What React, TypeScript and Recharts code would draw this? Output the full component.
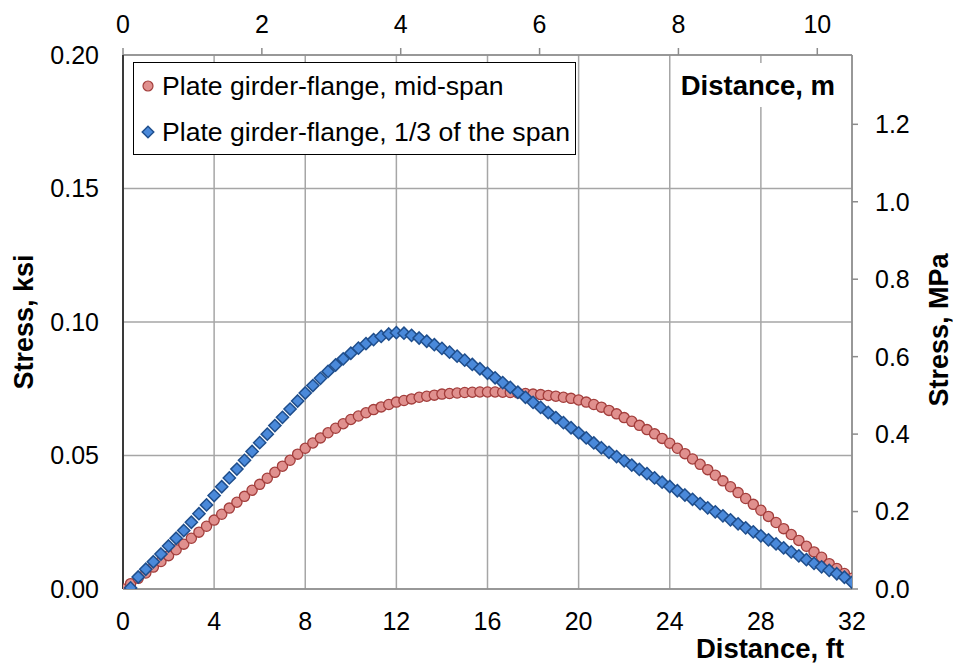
import React from 'react';
import {
  ScatterChart,
  Scatter,
  XAxis,
  YAxis,
  CartesianGrid,
  Legend,
  ReferenceArea,
  Label,
} from 'recharts';

const FONT = '"Liberation Sans", Arial, sans-serif';

// distance step between readings (ft)
const STEP_FT = 1 / 3;

// Plate girder-flange, mid-span (ksi), readings start at 0 ft
const midSpanKsi = [
  0.0000, 0.0020, 0.0040, 0.0060, 0.0082, 0.0103, 0.0125, 0.0147, 0.0168, 0.0190,
  0.0213, 0.0235, 0.0258, 0.0280, 0.0303, 0.0325, 0.0347, 0.0370, 0.0392, 0.0415,
  0.0437, 0.0460, 0.0482, 0.0505, 0.0527, 0.0547, 0.0566, 0.0585, 0.0602, 0.0619,
  0.0635, 0.0648, 0.0660, 0.0672, 0.0682, 0.0691, 0.0700, 0.0706, 0.0712, 0.0718,
  0.0722, 0.0726, 0.0730, 0.0732, 0.0734, 0.0736, 0.0737, 0.0738, 0.0738, 0.0738,
  0.0737, 0.0736, 0.0734, 0.0732, 0.0730, 0.0728, 0.0725, 0.0722, 0.0718, 0.0714,
  0.0708, 0.0700, 0.0691, 0.0681, 0.0669, 0.0656, 0.0642, 0.0628, 0.0613, 0.0597,
  0.0581, 0.0564, 0.0546, 0.0527, 0.0507, 0.0487, 0.0467, 0.0447, 0.0426, 0.0405,
  0.0383, 0.0361, 0.0339, 0.0317, 0.0295, 0.0272, 0.0249, 0.0226, 0.0204, 0.0182,
  0.0160, 0.0139, 0.0119, 0.0095, 0.0077, 0.0058, 0.0040,
];

// Plate girder-flange, 1/3 of the span (ksi), readings start one step in
const thirdSpanStart = 1;
const thirdSpanKsi = [
  0.0004, 0.0045, 0.0074, 0.0102, 0.0131, 0.0161, 0.0190, 0.0219, 0.0250, 0.0282,
  0.0315, 0.0350, 0.0383, 0.0416, 0.0449, 0.0482, 0.0515, 0.0548, 0.0580, 0.0612,
  0.0643, 0.0674, 0.0704, 0.0734, 0.0762, 0.0789, 0.0815, 0.0839, 0.0862, 0.0883,
  0.0902, 0.0919, 0.0934, 0.0946, 0.0955, 0.0960, 0.0958, 0.0950, 0.0940, 0.0928,
  0.0915, 0.0901, 0.0887, 0.0872, 0.0857, 0.0841, 0.0825, 0.0808, 0.0791, 0.0773,
  0.0755, 0.0737, 0.0718, 0.0699, 0.0680, 0.0661, 0.0642, 0.0623, 0.0604, 0.0585,
  0.0566, 0.0547, 0.0529, 0.0512, 0.0496, 0.0480, 0.0464, 0.0448, 0.0432, 0.0416,
  0.0400, 0.0384, 0.0368, 0.0352, 0.0336, 0.0320, 0.0304, 0.0289, 0.0274, 0.0259,
  0.0244, 0.0229, 0.0214, 0.0199, 0.0184, 0.0169, 0.0154, 0.0139, 0.0124, 0.0110,
  0.0096, 0.0083, 0.0070, 0.0057, 0.0044, 0.0025,
];

const seriesNames = ['Plate girder-flange, mid-span', 'Plate girder-flange, 1/3 of the span'];

const ftTicks = [0, 4, 8, 12, 16, 20, 24, 28, 32];
const mTicks = [0, 2, 4, 6, 8, 10];
const ksiTicks = [0, 0.05, 0.1, 0.15, 0.2];
const mpaTicks = [0, 0.2, 0.4, 0.6, 0.8, 1.0, 1.2];

const ftDomain = [0, 32];
const mDomain = [0, 10.5];
const ksiDomain = [0, 0.2];
const mpaDomain = [0, 1.379];

const midData = midSpanKsi.map((v, i) => ({ ft: i * STEP_FT, ksi: v }));
const thirdData = thirdSpanKsi.map((v, i) => ({ ft: (i + thirdSpanStart) * STEP_FT, ksi: v }));
// anchor row so the secondary (metric) axes are registered; drawn invisibly
const metricAnchor = [{ m: mDomain[0], mpa: mpaDomain[0] }];

const RED_FILL = '#E0908E';
const RED_STROKE = '#A33E3C';
const BLUE_FILL = '#4A89DA';
const BLUE_STROKE = '#1F4E8C';
const GRID = '#A6A6A6';
const AXIS_GRAY = '#8C8C8C';

const CircleMark = (p: any) => (
  <circle cx={p.cx} cy={p.cy} r={5.1} fill={RED_FILL} stroke={RED_STROKE} strokeWidth={1.3} />
);

const DiamondMark = (p: any) => {
  const s = 6.1;
  const { cx, cy } = p;
  return (
    <path
      d={`M${cx},${cy - s}L${cx + s},${cy}L${cx},${cy + s}L${cx - s},${cy}Z`}
      fill={BLUE_FILL}
      stroke={BLUE_STROKE}
      strokeWidth={1.5}
    />
  );
};

const NoMark = () => <g />;

const LegendBox = () => (
  <div
    style={{
      boxSizing: 'border-box',
      width: 443,
      height: 93,
      border: '1.5px solid #000',
      background: '#fff',
      position: 'relative',
      fontFamily: FONT,
      fontSize: 26.6,
      color: '#000',
    }}
  >
    <svg width={16} height={16} style={{ position: 'absolute', left: 6, top: 15 }}>
      <circle cx={8} cy={8} r={5} fill={RED_FILL} stroke={RED_STROKE} strokeWidth={1.2} />
    </svg>
    <span style={{ position: 'absolute', left: 28, top: 7, lineHeight: '32px', whiteSpace: 'nowrap' }}>
      {seriesNames[0]}
    </span>
    <svg width={16} height={16} style={{ position: 'absolute', left: 6, top: 61 }}>
      <path d="M8,2.2L13.8,8L8,13.8L2.2,8Z" fill={BLUE_FILL} stroke={BLUE_STROKE} strokeWidth={1.4} />
    </svg>
    <span style={{ position: 'absolute', left: 28, top: 53, lineHeight: '32px', whiteSpace: 'nowrap' }}>
      {seriesNames[1]}
    </span>
  </div>
);

const tickStyle = { fontSize: 25, fill: '#000', fontFamily: FONT };

export default function App() {
  return (
    <div style={{ position: 'absolute', left: 0, top: 0, width: 953, height: 667, background: '#fff' }}>
      <ScatterChart width={953} height={667} margin={{ top: 0, right: 0, bottom: 0, left: 0 }}>
        <CartesianGrid xAxisId="ft" yAxisId="ksi" stroke={GRID} strokeWidth={1.5} />
        <XAxis
          xAxisId="ft"
          dataKey="ft"
          type="number"
          orientation="bottom"
          domain={ftDomain}
          ticks={ftTicks}
          interval={0}
          allowDataOverflow
          height={78}
          axisLine={{ stroke: AXIS_GRAY, strokeWidth: 1.5 }}
          tickLine={false}
          tickSize={0}
          tickMargin={23}
          tick={tickStyle}
        >
          <Label
            content={() => (
              <text x={770} y={658} textAnchor="middle" fontFamily={FONT} fontWeight="bold" fontSize={27.5} fill="#000">
                Distance, ft
              </text>
            )}
          />
        </XAxis>
        <XAxis
          xAxisId="m"
          dataKey="m"
          type="number"
          orientation="top"
          domain={mDomain}
          ticks={mTicks}
          interval={0}
          allowDataOverflow
          height={55}
          axisLine={{ stroke: AXIS_GRAY, strokeWidth: 1.5 }}
          tickLine={{ stroke: AXIS_GRAY, strokeWidth: 1.5 }}
          tickSize={7}
          tickMargin={15}
          tick={tickStyle}
        />
        <YAxis
          yAxisId="ksi"
          dataKey="ksi"
          type="number"
          orientation="left"
          domain={ksiDomain}
          ticks={ksiTicks}
          interval={0}
          allowDataOverflow
          width={123}
          axisLine={{ stroke: '#3A3A3A', strokeWidth: 2 }}
          tickLine={false}
          tickSize={0}
          tickMargin={24}
          tick={tickStyle}
          tickFormatter={(v: number) => v.toFixed(2)}
        >
          <Label
            content={() => (
              <text
                x={33}
                y={322}
                transform="rotate(-90 33 322)"
                textAnchor="middle"
                fontFamily={FONT}
                fontWeight="bold"
                fontSize={27}
                fill="#000"
              >
                Stress, ksi
              </text>
            )}
          />
        </YAxis>
        <YAxis
          yAxisId="mpa"
          dataKey="mpa"
          type="number"
          orientation="right"
          domain={mpaDomain}
          ticks={mpaTicks}
          interval={0}
          allowDataOverflow
          width={101}
          axisLine={{ stroke: AXIS_GRAY, strokeWidth: 1.5 }}
          tickLine={{ stroke: AXIS_GRAY, strokeWidth: 1.5 }}
          tickSize={6}
          tickMargin={17}
          tick={tickStyle}
          tickFormatter={(v: number) => v.toFixed(1)}
        >
          <Label
            content={() => (
              <text
                x={948}
                y={330}
                transform="rotate(-90 948 330)"
                textAnchor="middle"
                fontFamily={FONT}
                fontWeight="bold"
                fontSize={27}
                fill="#000"
              >
                Stress, MPa
              </text>
            )}
          />
        </YAxis>
        <ReferenceArea
          xAxisId="ft"
          yAxisId="ksi"
          x1={24.1}
          x2={31.9}
          y1={0.1805}
          y2={0.197}
          fill="#fff"
          fillOpacity={1}
          stroke="none"
          ifOverflow="visible"
          label={(props: any) => {
            const vb = props.viewBox || {};
            const cx = (vb.x ?? 0) + (vb.width ?? 0) / 2 - 3;
            const cy = (vb.y ?? 0) + (vb.height ?? 0) / 2 + 9.5;
            return (
              <text x={cx} y={cy} textAnchor="middle" fontFamily={FONT} fontWeight="bold" fontSize={27.5} fill="#000">
                Distance, m
              </text>
            );
          }}
        />
        <Scatter
          name="metric-anchor"
          xAxisId="m"
          yAxisId="mpa"
          data={metricAnchor}
          shape={NoMark}
          legendType="none"
          isAnimationActive={false}
        />
        <Scatter
          name={seriesNames[0]}
          xAxisId="ft"
          yAxisId="ksi"
          data={midData}
          shape={CircleMark}
          isAnimationActive={false}
        />
        <Scatter
          name={seriesNames[1]}
          xAxisId="ft"
          yAxisId="ksi"
          data={thirdData}
          shape={DiamondMark}
          isAnimationActive={false}
        />
        <Legend
          layout="horizontal"
          verticalAlign="middle"
          align="center"
          wrapperStyle={{ left: 133, top: 62, width: 443, height: 93 }}
          content={() => <LegendBox />}
        />
      </ScatterChart>
    </div>
  );
}
